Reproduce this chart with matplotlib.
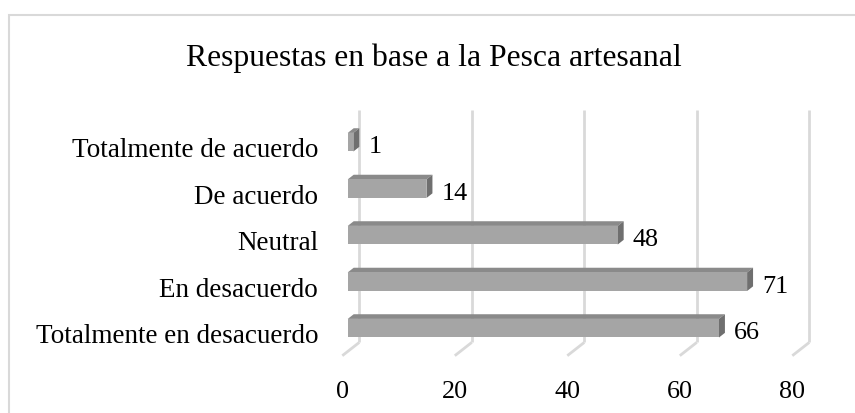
import matplotlib
matplotlib.use("Agg")
import matplotlib.pyplot as plt
from matplotlib.patches import Polygon, Rectangle

categories = ["Totalmente en desacuerdo", "En desacuerdo", "Neutral",
              "De acuerdo", "Totalmente de acuerdo"]
values = [66, 71, 48, 14, 1]
ticks = [0, 20, 40, 60, 80]

W, H = 855, 414
fig = plt.figure(figsize=(W / 100, H / 100), dpi=100)
plt.rcParams['font.family'] = ['Liberation Serif', 'DejaVu Serif']

# chart-area border
fig.patches.append(Rectangle((8.5 / W, -0.1), 1.0, (H - 15.5) / H + 0.1,
                             transform=fig.transFigure, fill=False,
                             edgecolor='#D9D9D9', linewidth=1.5))

fig.text(434 / W, 1 - 58 / H, "Respuestas en base a la Pesca artesanal",
         ha='center', va='center', fontsize=22.8, color='#000000')

ax = fig.add_axes([342.3 / W, (H - 356.7) / H, 450 / W, 232.5 / H])
ax.set_xlim(0, 80)
ax.set_ylim(-0.5, 4.5)
ax.axis('off')

# depth vector (data units)
DX, DY = 3.02, 0.286
grid = '#D9D9D9'

for t in ticks:
    # back wall gridline
    ax.plot([t + DX, t + DX], [-0.5 + DY, 4.5 + DY], color=grid, lw=2,
            clip_on=False, zorder=1, solid_capstyle='butt')
    # floor diagonal
    ax.plot([t, t + DX], [-0.5, -0.5 + DY], color=grid, lw=2,
            clip_on=False, zorder=1, solid_capstyle='butt')
    ax.text(t, -1.25, str(t), ha='center', va='center', fontsize=18.8,
            clip_on=False)

bh = 0.4
f0, f1 = 0.32, 0.67  # bar depth fractions
front_c = '#A5A5A5'
top_c = '#8A8A8A'
end_c = '#6F6F6F'
for i, (cat, v) in enumerate(zip(categories, values)):
    ox, oy = f0 * DX, f0 * DY
    bx, by = (f1 - f0) * DX, (f1 - f0) * DY
    y0 = i - bh / 2 + oy
    y1 = i + bh / 2 + oy
    x0 = ox
    x1 = v + ox
    # top face
    ax.add_patch(Polygon([(x0, y1), (x1, y1), (x1 + bx, y1 + by), (x0 + bx, y1 + by)],
                         closed=True, facecolor=top_c, edgecolor='none',
                         clip_on=False, zorder=3))
    # end face
    ax.add_patch(Polygon([(x1, y0), (x1, y1), (x1 + bx, y1 + by), (x1 + bx, y0 + by)],
                         closed=True, facecolor=end_c, edgecolor='none',
                         clip_on=False, zorder=3))
    # front face
    ax.add_patch(Rectangle((x0, y0), v, bh, facecolor=front_c, edgecolor='none',
                           clip_on=False, zorder=4))
    ax.text(x1 + bx + 1.6, i, str(v), ha='left', va='center',
            fontsize=18.8, clip_on=False, zorder=5)
    ax.text(-4.3, i - 0.07, cat, ha='right', va='center', fontsize=19.5,
            clip_on=False)

fig.savefig("out.png", dpi=100)
